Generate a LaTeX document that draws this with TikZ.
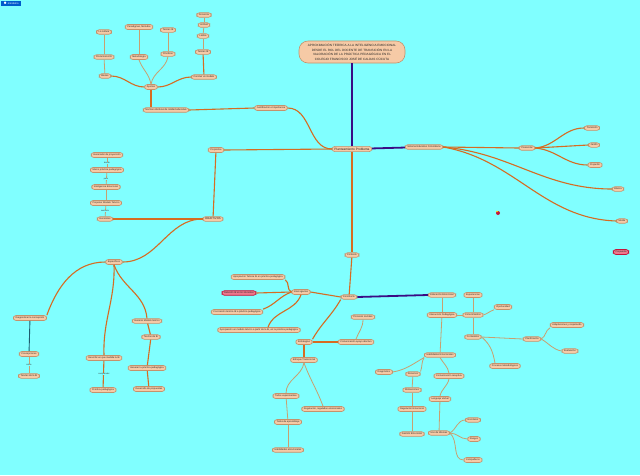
\documentclass[tikz,border=0pt]{standalone}
\usepackage{fontspec}
\setmainfont{Liberation Sans}
\definecolor{bgc}{RGB}{128,255,255}
\definecolor{peach}{RGB}{246,202,166}
\definecolor{bord}{RGB}{196,146,108}
\definecolor{orl}{RGB}{214,108,34}
\definecolor{tanl}{RGB}{200,160,112}
\definecolor{purl}{RGB}{58,12,132}
\definecolor{teall}{RGB}{30,92,110}
\definecolor{pinkf}{RGB}{238,120,140}
\definecolor{redb}{RGB}{196,20,60}
\newcommand{\fsA}{\fontsize{2.4}{2.9}\selectfont}
\newcommand{\fsB}{\fontsize{3.2}{3.8}\selectfont}
\newcommand{\fsL}{\fontsize{2.1}{2.5}\selectfont}
\begin{document}
\begin{tikzpicture}[x=1pt,y=-1pt,
  nb/.style={draw=bord,fill=peach,line width=0.6pt,rounded corners=2.6pt,inner xsep=2.2pt,inner ysep=1.4pt,font=\fsA,text=black!85},
  nr/.style={nb,fill=pinkf,draw=redb,line width=0.7pt},
  lab/.style={font=\fsL,inner sep=0.4pt,fill=bgc,text=black!80},
  eo/.style={draw=orl,line width=1.1pt},
  et/.style={draw=tanl,line width=0.8pt},
  ep/.style={draw=purl,line width=1.8pt},
  etl/.style={draw=teall,line width=0.9pt}]
\fill[bgc] (0,0) rectangle (640,475);
\useasboundingbox (0,0) rectangle (640,475);
% badge
\node[fill=blue!55!cyan!80!black,text=white,font=\fontsize{2.6}{3}\selectfont,inner xsep=1.5pt,inner ysep=1pt,minimum width=20pt,minimum height=5pt] (badge) at (11,3.5) {$\bullet$ mindomo};
% title
\node[nb,rounded corners=9pt,minimum width=106pt,minimum height=22pt,align=center,font=\fontsize{3.1}{4.6}\selectfont] (title) at (352,52) {APROXIMACIÓN TEÓRICA A LA INTELIGENCIA EMOCIONAL\\DESDE EL ROL DEL DOCENTE DE TRANSICIÓN EN LA\\VALORACIÓN DE LA PRÁCTICA PEDAGÓGICA EN EL\\COLEGIO FRANCISCO JOSÉ DE CALDAS CÚCUTA};
\node[nb,font=\fsB] (pp) at (352,149) {Planteamiento Problema};
\node[nb] (sec) at (424,147) {Sistema Educativo Colombiano};
\node[nb] (pre) at (527,148) {Preescolar};
\node[nb] (tra) at (592,128) {Transición};
\node[nb] (jar) at (594,145) {Jardín};
\node[nb] (prj) at (595,165) {Prejardín};
\node[nb] (bas) at (618,189) {Básica};
\node[nb] (med) at (622,221) {Media};
\node[nr] (prop) at (621,252) {Propuesta};
% left upper
\node[nb] (jus) at (271,108) {Justificación e Importancia};
\node[nb] (nor) at (166,110) {Normas efectivas de calidad educativa};
\node[nb] (apo) at (151,87) {Aportes};
\node[nb] (bie) at (105,76) {Bienes};
\node[nb] (pie) at (104,57) {Precursores IE};
\node[nb] (cul) at (104,32) {La cultura};
\node[nb] (met) at (139,57) {Metodología};
\node[nb] (par) at (139,27) {Paradigmas, Métodos};
\node[nb] (pra) at (168,54) {Prácticas};
\node[nb] (tie1) at (168,30) {Teorías IE};
\node[nb] (con) at (204,77) {Concluir un modelo};
\node[nb] (tie2) at (203,52) {Teorías IE};
\node[nb] (lud) at (203,36) {Lúdica};
\node[nb] (act) at (204,25) {Actitud};
\node[nb] (doc) at (204,15) {Docencia};
% objetivos
\node[nb] (pro) at (216,150) {Propósitos};
\node[nb,font=\fontsize{2.8}{3.3}\selectfont] (obj) at (213,219) {OBJETIVOS};
\node[nb] (gen) at (105,219) {Generales};
\node[nb] (pmt) at (106,203) {Proponer Modelo Teórico};
\node[nb] (iem) at (106,187) {Inteligencia Emocional};
\node[nb] (mpp) at (107,170) {Marco práctica pedagógica};
\node[nb] (gdp) at (107,155) {Generador de proyección};
\node[nb] (esp) at (114,262) {Específicos};
\node[nb] (dia) at (30,318) {Diagnosticar la concepción};
\node[nb] (cnc) at (29,354) {Concepciones};
\node[nb] (tdi) at (29,376) {Teorías de la IE};
\node[nb] (des) at (104,358) {Describir en que medida la IE};
\node[nb] (ppe) at (103,390) {Práctica pedagógica};
\node[nb] (gmt) at (147,321) {Generar Modelo teórico};
\node[nb] (tde) at (151,337) {Teorías de IE};
\node[nb] (gpp) at (147,368) {Generar la práctica pedagógica};
\node[nb] (ddp) at (149,389) {Desarrollo de propuestas};
% centre bottom
\node[nb] (ctx) at (352,255) {Contexto};
\node[nb] (cst) at (349,297) {Constructo};
\node[nb] (int) at (301,292) {Interrogantes};
\node[nb] (ati) at (258,277) {Apropiación Teórica IE en práctica pedagógica};
\node[nr] (rie) at (239,293) {Relación IE en los docentes};
\node[nb] (cti) at (237,312) {Concreción teórica IE a práctica pedagógica};
\node[nb] (aum) at (259,330) {Apropiación un modelo teórico a partir de la IE, en la práctica pedagógica};
\node[nb] (est) at (304,342) {Estrategias};
\node[nb] (enf) at (304,360) {Enfoque Transicional};
\node[nb] (tex) at (286,396) {Todos experimentan};
\node[nb] (reg) at (323,409) {Regulación, reguladas emocionales};
\node[nb] (tap) at (288,422) {Todos de aprendizaje};
\node[nb] (hem) at (288,450) {Habilidades emocionales};
\node[nb] (psc) at (363,317) {Procesos sociales};
\node[nb] (cap) at (356,342) {Comunicación apoyo afectivo};
% right bottom
\node[nb] (edu) at (442,295) {Educación Emocional};
\node[nb] (ipe) at (442,315) {Interacción Pedagógica};
\node[nb] (exp) at (473,295) {Experiencias};
\node[nb] (cno) at (473,315) {Conocimientos};
\node[nb] (opo) at (503,307) {Oportunidad};
\node[nb] (cnt) at (473,337) {Contenidos};
\node[nb] (pla) at (532,339) {Planificación};
\node[nb] (ada) at (567,325) {Adaptaciones y respetando};
\node[nb] (eva) at (570,351) {Evaluación};
\node[nb] (pme) at (505,366) {Procesos Metodológicos};
\node[nb] (hab) at (440,355) {Habilidades Emocionales};
\node[nb] (dgn) at (384,372) {Diagnóstico};
\node[nb] (rec) at (413,374) {Recursos};
\node[nb] (crc) at (449,376) {Comunicación receptiva};
\node[nb] (mot) at (412,390) {Motivaciones};
\node[nb] (rem) at (412,409) {Regulación Emocional};
\node[nb] (ges) at (412,434) {Gestión Emocional};
\node[nb] (lve) at (440,399) {Lenguaje Verbal};
\node[nb] (uid) at (439,433) {Uso de Idiomas};
\node[nb] (esc) at (473,420) {Escolares};
\node[nb] (ras) at (474,439) {Rasgos};
\node[nb] (com) at (473,460) {Compañeros};
% icon
\fill[redb] (498,213) circle (2pt);
\fill[yellow!80!orange] (497,211.5) circle (0.9pt);
% ---- edges
\draw[ep] (title) -- (pp);
\draw[ep] (pp) -- (sec);
\draw[eo] (sec.east) -- (pre.west);
\draw[eo] (sec.east) to[out=-5,in=180] (bas.west);
\draw[eo] (sec.east) to[out=-10,in=178] (med.west);
\draw[eo] (pre.east) to[out=5,in=180] (tra.west);
\draw[eo] (pre.east) -- (jar.west);
\draw[eo] (pre.east) to[out=-5,in=180] (prj.west);
\draw[eo] (pp.west) to[out=180,in=0] (jus.east);
\draw[eo] (jus.west) -- (nor.east);
\draw[eo] (apo.south) -- (apo.south |- nor.north);
\draw[eo] (apo.west) to[out=180,in=0] (bie.east);
\draw[et] (apo.north) to[out=100,in=-70] (met.south);
\draw[et] (apo.north) to[out=80,in=-100] (pra.south);
\draw[eo] (apo.east) to[out=0,in=180] (con.west);
\draw[et] (bie) -- (pie);
\draw[et] (pie) -- (cul);
\draw[et] (met) -- (par);
\draw[et] (pra) -- (tie1);
\draw[eo] (con) -- (tie2);
\draw[et] (tie2) -- (lud);
\draw[et] (lud) -- (act);
\draw[et] (act) -- (doc);
\draw[eo] (pp.west) -- (pro.east);
\draw[eo] (pro) -- (obj);
\draw[eo] (obj.west) -- (gen.east);
\draw[eo] (obj.west) to[out=180,in=0] (esp.east);
\draw[et] (gen) -- (pmt);
\draw[et] (pmt) -- (iem);
\draw[et] (iem) -- (mpp);
\draw[et] (mpp) -- (gdp);
\draw[eo] (esp.west) to[out=180,in=70] (dia.north east);
\draw[eo] (esp.south) to[out=-88,in=92] (des.north);
\draw[eo] (esp.south) to[out=-70,in=95] (gmt.north);
\draw[etl] (dia) -- (cnc);
\draw[et] (cnc) -- (tdi);
\draw[eo] (des) -- (ppe);
\draw[eo] (gmt) -- (tde);
\draw[eo] (tde) -- (gpp);
\draw[eo] (gpp) -- (ddp);
\draw[eo] (pp) -- (ctx);
\draw[eo] (ctx) -- (cst);
\draw[eo] (cst.west) -- (int.east);
\draw[ep] (cst.east) -- (edu.west);
\draw[eo] (cst.south west) to[out=-120,in=60] (est.north east);
\draw[eo] (est.east) -- (cap.west);
\draw[eo] (est) -- (enf);
\draw[eo] (int.west) to[out=160,in=-30] (ati.south east);
\draw[eo] (int.west) -- (rie.east);
\draw[eo] (int.west) to[out=200,in=20] (cti.north east);
\draw[eo] (int.south) to[out=-110,in=70] ([xshift=9pt]aum.north);
\draw[et] (enf.south) to[out=-100,in=90] (tex.north);
\draw[et] (enf.south) to[out=-70,in=110] (reg.north);
\draw[et] (tex) -- (tap);
\draw[et] (tap) -- (hem);
\draw[et] (psc.south) to[out=-90,in=70] (cap.north);
\draw[et] (edu) -- (ipe);
\draw[et] (ipe.east) -- (cno.west);
\draw[et] (cno) -- (exp);
\draw[et] (cno.east) to[out=20,in=200] (opo.south west);
\draw[et] (cno) -- (cnt);
\draw[et] (cnt.east) -- (pla.west);
\draw[et] (cnt.east) to[out=-40,in=100] ([xshift=-10pt]pme.north);
\draw[et] (pla.east) to[out=30,in=-150] (ada.south west);
\draw[et] (pla.east) to[out=-30,in=170] (eva.west);
\draw[et] (ipe) -- (hab);
\draw[et] (hab.south west) to[out=-150,in=10] (dgn.east);
\draw[et] (hab.south west) to[out=-120,in=70] (rec.north east);
\draw[et] (hab.south) to[out=-60,in=100] (crc.north);
\draw[et] (rec) -- (mot);
\draw[et] (mot) -- (rem);
\draw[et] (rem) -- (ges);
\draw[et] (crc.south) to[out=-100,in=80] (lve.north);
\draw[et] (lve) -- (uid);
\draw[et] (uid.east) to[out=30,in=180] (esc.west);
\draw[et] (uid.east) to[out=0,in=180] (ras.west);
\draw[et] (uid.east) to[out=-40,in=180] (com.west);
% labels on connectors
\node[lab] (l1) at (105,211) {sustento};
\node[lab] (l2) at (106,179) {para};
\node[lab] (l3) at (107,163) {desde};
\node[lab] (l4) at (29,365) {sobre};
\node[lab] (l5) at (104,374) {comprender};
\end{tikzpicture}
\end{document}
